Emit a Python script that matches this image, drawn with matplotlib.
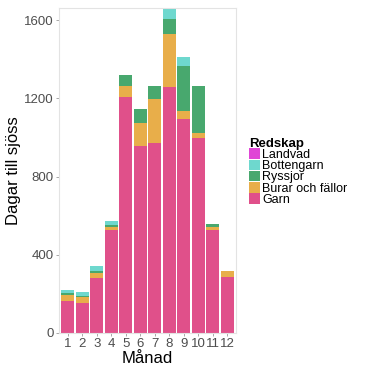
import numpy as np
import matplotlib
matplotlib.use("Agg")
import matplotlib.pyplot as plt
from matplotlib.patches import Patch

plt.rcParams['font.family'] = ['Liberation Sans', 'DejaVu Sans']

manad = np.arange(1, 13)
garn = [161, 155, 280, 525, 1205, 958, 970, 1259, 1094, 996, 525, 288]
burar = [34, 30, 28, 15, 60, 116, 228, 269, 39, 26, 15, 28]
ryssjor = [7, 5, 10, 12, 55, 73, 64, 80, 232, 243, 15, 3]
bottengarn = [17, 20, 22, 18, 0, 0, 0, 52, 46, 0, 0, 0]
landvad = [0, 0, 0, 0, 0, 0, 0, 0, 0, 0, 0, 0]

serier = [("Garn", garn, "#E0508A"),
          ("Burar och fällor", burar, "#E8AE4A"),
          ("Ryssjor", ryssjor, "#48A86E"),
          ("Bottengarn", bottengarn, "#6ED8CE"),
          ("Landvad", landvad, "#E045D6")]

fig = plt.figure(figsize=(3.67, 3.67), dpi=100)
ax = fig.add_axes([0.161, 0.093, 0.482, 0.885])

bottom = np.zeros(12)
for namn, v, farg in serier:
    ax.bar(manad, v, bottom=bottom, width=0.9, color=farg, linewidth=0)
    bottom += np.array(v)

ax.set_xlim(0.4, 12.6)
ax.set_ylim(0, 1662)
ax.set_yticks([0, 400, 800, 1200, 1600])
ax.set_xticks(manad)
for s in ax.spines.values():
    s.set_color("#e3e3e3")
    s.set_linewidth(0.8)
ax.tick_params(colors="#999999", labelcolor="#4d4d4d", labelsize=9.5, length=2.5, width=0.6, pad=1.5)
ax.set_xlabel("Månad", fontsize=12, labelpad=0.5)
ax.set_ylabel("Dagar till sjöss", fontsize=12, labelpad=2)

handles = [Patch(facecolor=f, label=n) for n, v, f in reversed(serier)]
leg = fig.legend(handles=handles, title="Redskap", loc="upper left",
                 bbox_to_anchor=(0.678, 0.625), frameon=False, fontsize=9,
                 title_fontproperties={"weight": "bold", "size": 9.5},
                 handlelength=0.9, handleheight=0.9, handletextpad=0.15,
                 labelspacing=-0.1, borderaxespad=0, borderpad=0)
leg._legend_box.align = "left"

fig.savefig("out.png", dpi=100)
